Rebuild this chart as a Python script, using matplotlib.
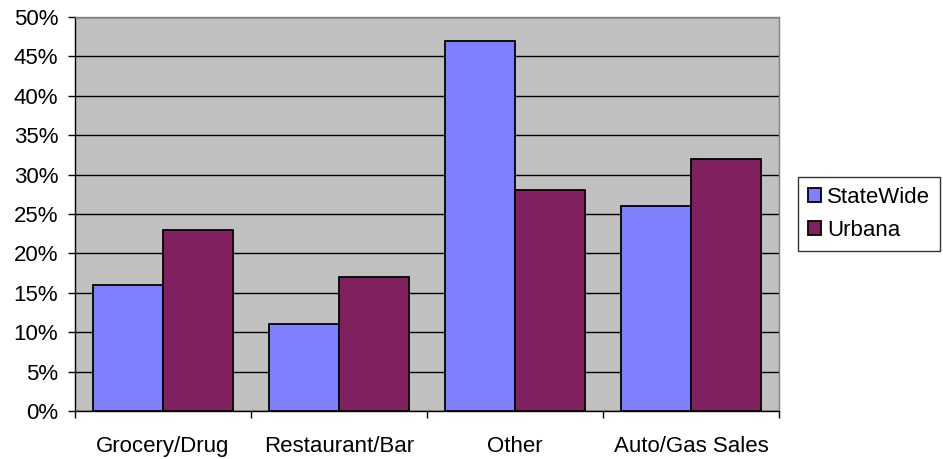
import numpy as np
import matplotlib.pyplot as plt
from matplotlib.ticker import PercentFormatter

categories = ["Grocery/Drug", "Restaurant/Bar", "Other", "Auto/Gas Sales"]
statewide = [16, 11, 47, 26]
urbana = [23, 17, 28, 32]
series_names = ["StateWide", "Urbana"]

plt.rcParams['font.family'] = ['Liberation Sans', 'DejaVu Sans']

fig = plt.figure(figsize=(9.43, 4.59), dpi=100)
ax = fig.add_axes([75 / 943, 1 - 411 / 459, (779 - 75) / 943, (411 - 17) / 459])

x = np.arange(len(categories))
w = 0.4
ax.bar(x - w / 2, statewide, w, color='#8080FF', edgecolor='black', linewidth=1.3,
       label=series_names[0], zorder=3)
ax.bar(x + w / 2, urbana, w, color='#80205F', edgecolor='black', linewidth=1.3,
       label=series_names[1], zorder=3)

ax.set_facecolor('#C0C0C0')
ax.set_xlim(-0.5, len(categories) - 0.5)
ax.set_ylim(0, 50)
ax.set_yticks(np.arange(0, 51, 5))
ax.yaxis.set_major_formatter(PercentFormatter(decimals=0))
ax.yaxis.grid(True, color='black', linewidth=1, zorder=1)
ax.set_axisbelow(True)

# category labels centred, ticks on the boundaries
ax.set_xticks(x)
ax.set_xticklabels(categories)
ax.set_xticks(np.arange(-0.5, len(categories)), minor=True)
ax.tick_params(axis='x', which='major', length=0, pad=18, labelsize=16)
ax.tick_params(axis='x', which='minor', length=5, width=1, direction='out')
ax.tick_params(axis='y', length=5, width=1, direction='out', labelsize=16, pad=7)

for side in ['top', 'right']:
    ax.spines[side].set_color('#808080')
for side in ['left', 'bottom']:
    ax.spines[side].set_color('black')
for s in ax.spines.values():
    s.set_linewidth(1)

leg = fig.legend(loc='upper left', bbox_to_anchor=(798 / 943, 1 - 177 / 459),
                 fontsize=16, frameon=True, fancybox=False, edgecolor='black',
                 handlelength=0.6, handleheight=0.6, handletextpad=0.25,
                 borderpad=0.45, labelspacing=0.55, borderaxespad=0)
leg.get_frame().set_linewidth(1)

fig.savefig('out.png', dpi=100)
